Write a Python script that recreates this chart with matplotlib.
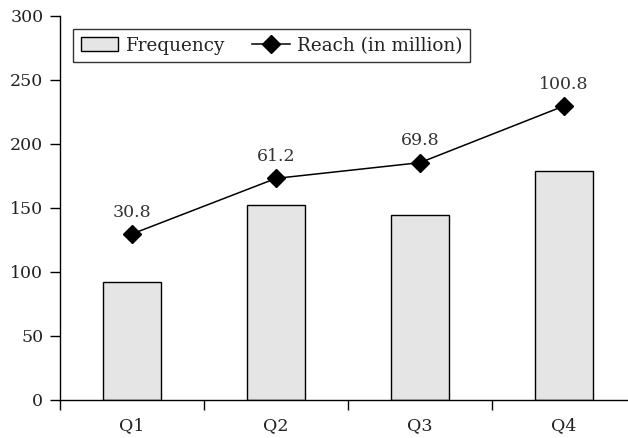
import matplotlib
matplotlib.use("Agg")
import matplotlib.pyplot as plt
import numpy as np

quarters = ["Q1", "Q2", "Q3", "Q4"]
frequency = [92.5, 152, 144.5, 179]
reach = [30.8, 61.2, 69.8, 100.8]
y_ticks = [0, 50, 100, 150, 200, 250, 300]

plt.rcParams["font.family"] = ["DejaVu Serif"]
plt.rcParams["font.size"] = 12.5

W, H = 628, 438
fig = plt.figure(figsize=(W / 100, H / 100), dpi=100)
ax = fig.add_axes([60 / W, (H - 400) / H, 576 / W, 384 / H])

x = np.arange(len(quarters))
bars = ax.bar(x, frequency, width=0.4, color="#e5e5e5", edgecolor="black",
              linewidth=1.0, label="Frequency", zorder=2)

ax.set_xlim(-0.5, len(quarters) - 0.5)
ax.set_ylim(0, 300)
ax.set_yticks(y_ticks)
ax.set_xticks(x)
ax.set_xticklabels(quarters)
ax.set_xticks(np.arange(-0.5, len(quarters), 1.0), minor=True)
ax.tick_params(axis="x", which="major", length=0, pad=12, labelcolor="#222222")
ax.tick_params(axis="x", which="minor", length=7, width=1.0, direction="out")
ax.tick_params(axis="y", length=7, width=1.0, pad=5, labelcolor="#222222")
for side in ("top", "right"):
    ax.spines[side].set_visible(False)
for side in ("left", "bottom"):
    ax.spines[side].set_linewidth(1.0)

# Reach is plotted on its own (hidden) scale
ax2 = ax.twinx()
ax2.set_ylim(-60, 150)
ax2.axis("off")
line, = ax2.plot(x, reach, color="black", linewidth=1.1, marker="D",
                 markersize=8.8, label="Reach (in million)", zorder=3)
for xi, r in zip(x, reach):
    ax2.annotate(f"{r}", (xi, r), textcoords="offset points", xytext=(0, 9.5),
                 ha="center", va="bottom", color="#333333")

leg = ax2.legend([bars, line], ["Frequency", "Reach (in million)"],
                 loc="upper left", bbox_to_anchor=(13 / 576, 1 - 13 / 384),
                 ncol=2, frameon=True, fancybox=False, fontsize=13.2,
                 handlelength=2.05, handleheight=0.8, handletextpad=0.42,
                 columnspacing=1.45, borderpad=0.42, borderaxespad=0,
                 labelcolor="#222222")
leg.get_frame().set_edgecolor("black")
leg.get_frame().set_linewidth(1.0)

fig.savefig("out.png", dpi=100)
